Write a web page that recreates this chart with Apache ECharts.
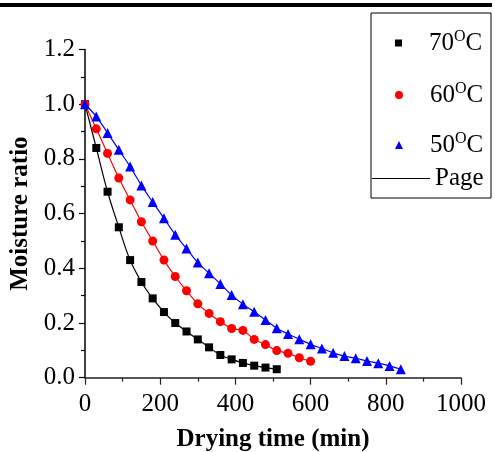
<!DOCTYPE html>
<html>
<head>
<meta charset="utf-8">
<script src="https://cdn.jsdelivr.net/npm/echarts@6/dist/echarts.min.js"></script>
<style>
  html, body { margin: 0; padding: 0; background: #fff; }
  #chart { width: 495px; height: 452px; }
</style>
</head>
<body>
<div id="chart"></div>
<script>
// drying time (min), sampled every 30 min
const dryingTime = [0, 30, 60, 90, 120, 150, 180, 210, 240, 270, 300, 330, 360, 390, 420,
  450, 480, 510, 540, 570, 600, 630, 660, 690, 720, 750, 780, 810, 840];

// moisture ratio
const mr70 = [1.0, 0.84, 0.68, 0.55, 0.43, 0.35, 0.29, 0.24, 0.20, 0.169, 0.14, 0.111,
  0.083, 0.067, 0.054, 0.044, 0.037, 0.031];
const mr60 = [1.0, 0.91, 0.82, 0.73, 0.65, 0.57, 0.50, 0.43, 0.37, 0.318, 0.27, 0.235,
  0.205, 0.18, 0.173, 0.14, 0.121, 0.099, 0.089, 0.073, 0.06];
const mr50 = [1.0, 0.955, 0.895, 0.833, 0.772, 0.703, 0.642, 0.583, 0.523, 0.472, 0.421,
  0.382, 0.343, 0.302, 0.269, 0.241, 0.211, 0.181, 0.16, 0.141, 0.122, 0.107, 0.091,
  0.079, 0.071, 0.061, 0.053, 0.043, 0.031];

const yTicks = [0, 0.2, 0.4, 0.6, 0.8, 1.0, 1.2];

const SERIF = "'Liberation Serif', 'DejaVu Serif', serif";

function pairs(ys) {
  return ys.map((y, i) => [dryingTime[i], y]);
}

// 温度图例用上标 O;p 是图标与文字之间的空白
function legendText(name) {
  if (name === "Page") return "{a|Page}";
  return "{p|}{a|" + name.replace("°C", "") + "}{s|O}{a|C}";
}

const legendRich = {
  p: { width: 22 },
  a: { fontFamily: SERIF, fontSize: 25, color: "#000", lineHeight: 28 },
  s: { fontFamily: SERIF, fontSize: 16, color: "#000", lineHeight: 28, verticalAlign: "top", padding: [0, 0, 10, 0] },
};

function legendAt(name, icon, left, top, width, height) {
  return {
    data: [{ name: name, icon: icon }],
    left: left,
    top: top,
    padding: 0,
    itemWidth: width,
    itemHeight: height,
    selectedMode: false,
    formatter: legendText,
    textStyle: { rich: legendRich },
  };
}

const temps = [
  { name: "70°C", ys: mr70, color: "#000000", symbol: "rect", size: 8 },
  { name: "60°C", ys: mr60, color: "#ff0000", symbol: "circle", size: 9 },
  { name: "50°C", ys: mr50, color: "#0000ff", symbol: "triangle", size: 10 },
];

const series = [];
temps.forEach((t) => {
  series.push({
    name: "Page",
    type: "line",
    data: pairs(t.ys),
    smooth: 0.4,
    symbol: "none",
    lineStyle: { color: t.color, width: 1.2 },
    itemStyle: { color: t.color },
    z: 2,
  });
});
temps.forEach((t) => {
  series.push({
    name: t.name,
    type: "scatter",
    data: pairs(t.ys),
    symbol: t.symbol,
    symbolSize: t.size,
    itemStyle: { color: t.color, opacity: 1 },
    z: 3,
  });
});

const axisText = { fontFamily: SERIF, fontSize: 25, color: "#000" };

const chart = echarts.init(document.getElementById("chart"), null, { renderer: "canvas" });
chart.setOption({
  animation: false,
  backgroundColor: "#fff",
  grid: { left: 85, right: 34, top: 49.5, bottom: 74.3, containLabel: false, outerBoundsMode: "none" },
  xAxis: {
    type: "value",
    min: 0,
    max: 1000,
    interval: 200,
    name: "Drying time (min)",
    nameLocation: "middle",
    nameGap: 49,
    nameTextStyle: { fontFamily: SERIF, fontSize: 25, fontWeight: "bold", color: "#000" },
    axisLine: { show: true, onZero: false, lineStyle: { color: "#222", width: 1.5 } },
    axisTick: { show: true, inside: false, length: 7, lineStyle: { color: "#222", width: 1.2 } },
    minorTick: { show: true, splitNumber: 2, length: 4, lineStyle: { color: "#222", width: 1.2 } },
    axisLabel: { ...axisText, margin: 14, formatter: (v) => String(v) },
    splitLine: { show: false },
  },
  yAxis: {
    type: "value",
    min: yTicks[0],
    max: yTicks[yTicks.length - 1],
    interval: 0.2,
    name: "Moisture ratio",
    nameLocation: "middle",
    nameGap: 44,
    nameTextStyle: { fontFamily: SERIF, fontSize: 25, fontWeight: "bold", color: "#000" },
    axisLine: { show: true, onZero: false, lineStyle: { color: "#000", width: 1.5 } },
    axisTick: { show: true, inside: false, length: 6, lineStyle: { color: "#000", width: 1.2 } },
    minorTick: { show: true, splitNumber: 2, length: 4, lineStyle: { color: "#000", width: 1.2 } },
    axisLabel: { ...axisText, margin: 10, formatter: (v) => v.toFixed(1) },
    splitLine: { show: false },
  },
  legend: [
    legendAt("70°C", "rect", 395, 29, 7, 7),
    legendAt("60°C", "circle", 395, 81, 8, 8),
    legendAt("50°C", "triangle", 395, 131, 8, 8),
    legendAt("Page", "rect", 372, 166, 58, 1.2),
  ],
  graphic: [
    { type: "rect", left: 0, top: 3, shape: { width: 492, height: 4 }, style: { fill: "#000" }, silent: true },
    {
      type: "rect",
      left: 368.5,
      top: 10.5,
      shape: { width: 120, height: 185 },
      style: { fill: "none", stroke: "#000", lineWidth: 1 },
      silent: true,
    },
  ],
  series: series,
});
</script>
</body>
</html>
